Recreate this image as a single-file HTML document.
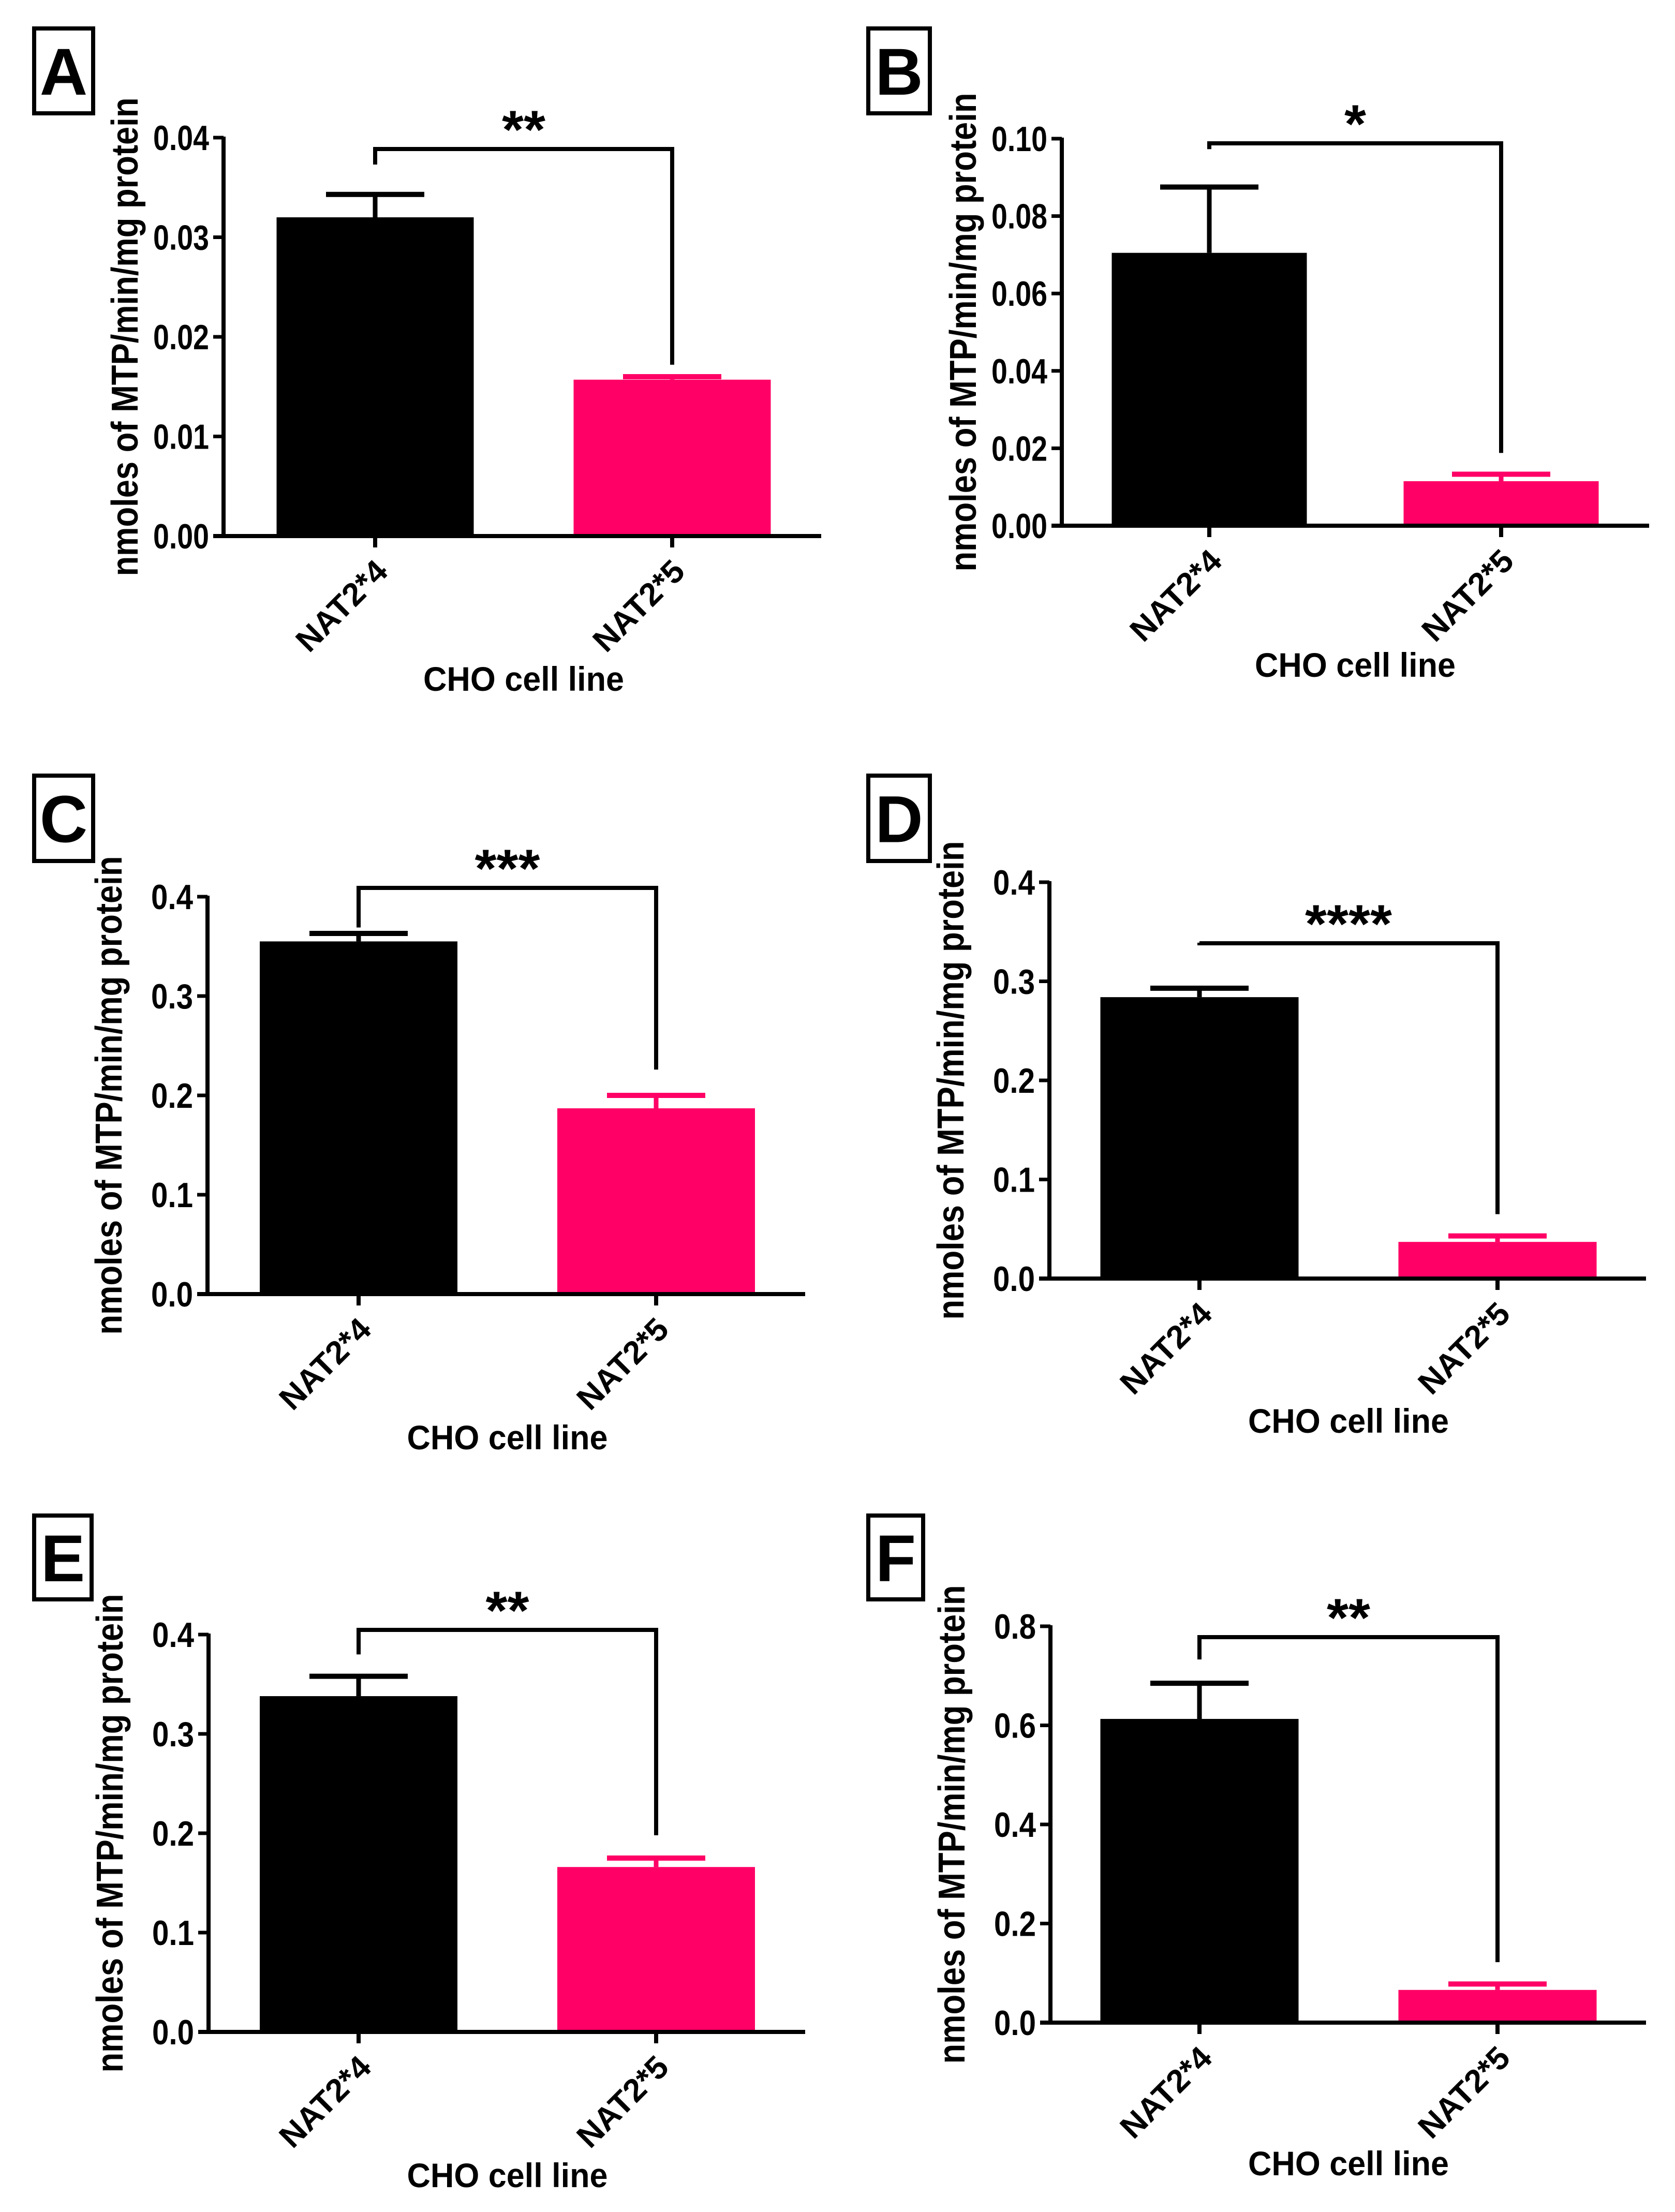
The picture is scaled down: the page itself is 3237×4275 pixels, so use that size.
<!DOCTYPE html>
<html><head><meta charset="utf-8"><style>
html,body{margin:0;padding:0;background:#fff;}
svg{display:block;}
text{font-family:"Liberation Sans",Arial,sans-serif;font-weight:bold;fill:#000;}
</style></head><body>
<svg id="fig" width="3237" height="4275" viewBox="0 0 3237 4275" xmlns="http://www.w3.org/2000/svg"></svg>
<script>
const panelLetters = ["A","B","C","D","E","F"];
const categories = ["NAT2*4","NAT2*5"];
const meanValues = [[0.032,0.0157],[0.0705,0.0115],[0.355,0.187],[0.284,0.037],[0.338,0.166],[0.613,0.066]];
const errValues  = [[0.0023,0.0003],[0.017,0.0018],[0.008,0.013],[0.009,0.006],[0.020,0.009],[0.072,0.012]];
const yMaxValues = [0.04,0.10,0.4,0.4,0.4,0.8];
const tickLabels = [["0.00","0.01","0.02","0.03","0.04"],["0.00","0.02","0.04","0.06","0.08","0.10"],["0.0","0.1","0.2","0.3","0.4"],["0.0","0.1","0.2","0.3","0.4"],["0.0","0.1","0.2","0.3","0.4"],["0.0","0.2","0.4","0.6","0.8"]];
const starLabels = ["**","*","***","****","**","**"];
const bracketValues = [[0.0373,0.0172],[0.0973,0.0188],[0.369,0.226],[0.339,0.065],[0.380,0.198],[0.733,0.122]];

const L = [
 {x0:432,top:266,bot:1036,xEnd:1587,c:[725,1299],bw:381,box:[62,51,122,172],cho:1335,bY:288},
 {x0:2052,top:268,bot:1016,xEnd:3187,c:[2337,2901],bw:377,box:[1674,51,127,172],cho:1308,bY:277},
 {x0:401,top:1733,bot:2501,xEnd:1556,c:[693,1268],bw:382,box:[62,1495,122,173],cho:2801,bY:1716},
 {x0:2028,top:1705,bot:2471,xEnd:3181,c:[2318,2894],bw:383,box:[1674,1495,127,173],cho:2769,bY:1823},
 {x0:403,top:3159,bot:3927,xEnd:1556,c:[693,1268],bw:382,box:[62,2925,119,170],cho:4227,bY:3150},
 {x0:2030,top:3143,bot:3909,xEnd:3181,c:[2318,2894],bw:383,box:[1674,2925,114,170],cho:4204,bY:3164}
];
const colors = ["#000000","#ff0066"];
const NS = "http://www.w3.org/2000/svg";
const svg = document.getElementById("fig");
function mk(tag, attrs, parent){
  const e = document.createElementNS(NS, tag);
  for (const k in attrs) e.setAttribute(k, attrs[k]);
  (parent||svg).appendChild(e);
  return e;
}
for (let p=0;p<6;p++){
  const l = L[p];
  const g = mk("g",{});
  
  
  const y = v => l.bot - (v / yMaxValues[p]) * (l.bot - l.top);
  const box = mk("rect",{x:l.box[0]+4,y:l.box[1]+4,width:l.box[2]-8,height:l.box[3]-8,fill:"none",stroke:"#000","stroke-width":8},g);
  
  
  const lt = mk("text",{x:l.box[0]+l.box[2]/2,y:l.box[1]+l.box[3]/2+46,"text-anchor":"middle","font-size":128},g);
  lt.textContent = panelLetters[p];
  
  
  for (let i=0;i<2;i++){
    const cx = l.c[i];
    const bar = mk("rect",{x:cx-l.bw/2,y:y(meanValues[p][i]),width:l.bw,height:l.bot-y(meanValues[p][i]),fill:colors[i]},g);
    
    
    const eTop = y(meanValues[p][i] + errValues[p][i]);
    const ev = mk("line",{x1:cx,x2:cx,y1:y(meanValues[p][i]),y2:eTop,stroke:colors[i],"stroke-width":9},g);
    
    
    const ec = mk("line",{x1:cx-95,x2:cx+95,y1:eTop,y2:eTop,stroke:colors[i],"stroke-width":10},g);
    
    
    const xt = mk("line",{x1:cx,x2:cx,y1:l.bot,y2:l.bot+22,stroke:"#000","stroke-width":8},g);
    
    
    const xl = mk("text",{x:0,y:0,"text-anchor":"end","font-size":62,textLength:220,lengthAdjust:"spacingAndGlyphs",transform:`translate(${cx+28},${l.bot+72}) rotate(-45)`},g);
    xl.textContent = categories[i];
    
    
  }
  const ya = mk("line",{x1:l.x0,x2:l.x0,y1:l.top-2,y2:l.bot+4,stroke:"#000","stroke-width":8},g);
  
  
  const xa = mk("line",{x1:l.x0-20,x2:l.xEnd,y1:l.bot,y2:l.bot,stroke:"#000","stroke-width":8},g);
  
  
  const tl = tickLabels[p];
  for (let k=0;k<tl.length;k++){
    const v = parseFloat(tl[k]);
    const ty = y(v);
    const t = mk("line",{x1:l.x0-20,x2:l.x0,y1:ty,y2:ty,stroke:"#000","stroke-width":7},g);
    
    
    const tx = mk("text",{x:l.x0-28,y:ty+24,"text-anchor":"end","font-size":68,textLength:tl[k].length*27,lengthAdjust:"spacingAndGlyphs"},g);
    tx.textContent = tl[k];
    
    
  }
  const ymid = (l.top + l.bot)/2;
  const yt = mk("text",{x:0,y:0,"text-anchor":"middle","font-size":72,textLength:925,lengthAdjust:"spacingAndGlyphs",transform:`translate(${l.x0 - 166},${ymid}) rotate(-90)`},g);
  yt.textContent = "nmoles of MTP/min/mg protein";
  
  
  const xtt = mk("text",{x:(l.c[0]+l.c[1])/2,y:l.cho,"text-anchor":"middle","font-size":66,textLength:388,lengthAdjust:"spacingAndGlyphs"},g);
  xtt.textContent = "CHO cell line";
  
  
  const by = l.bY;
  const br = mk("polyline",{points:`${l.c[0]},${y(bracketValues[p][0])} ${l.c[0]},${by} ${l.c[1]},${by} ${l.c[1]},${y(bracketValues[p][1])}`,fill:"none",stroke:"#000","stroke-width":8},g);
  
  
  const st = mk("text",{x:(l.c[0]+l.c[1])/2,y:by-2,"text-anchor":"middle","font-size":104,textLength:starLabels[p].length*42,lengthAdjust:"spacingAndGlyphs"},g);
  st.textContent = starLabels[p];
  
  
}
</script>
</body></html>
